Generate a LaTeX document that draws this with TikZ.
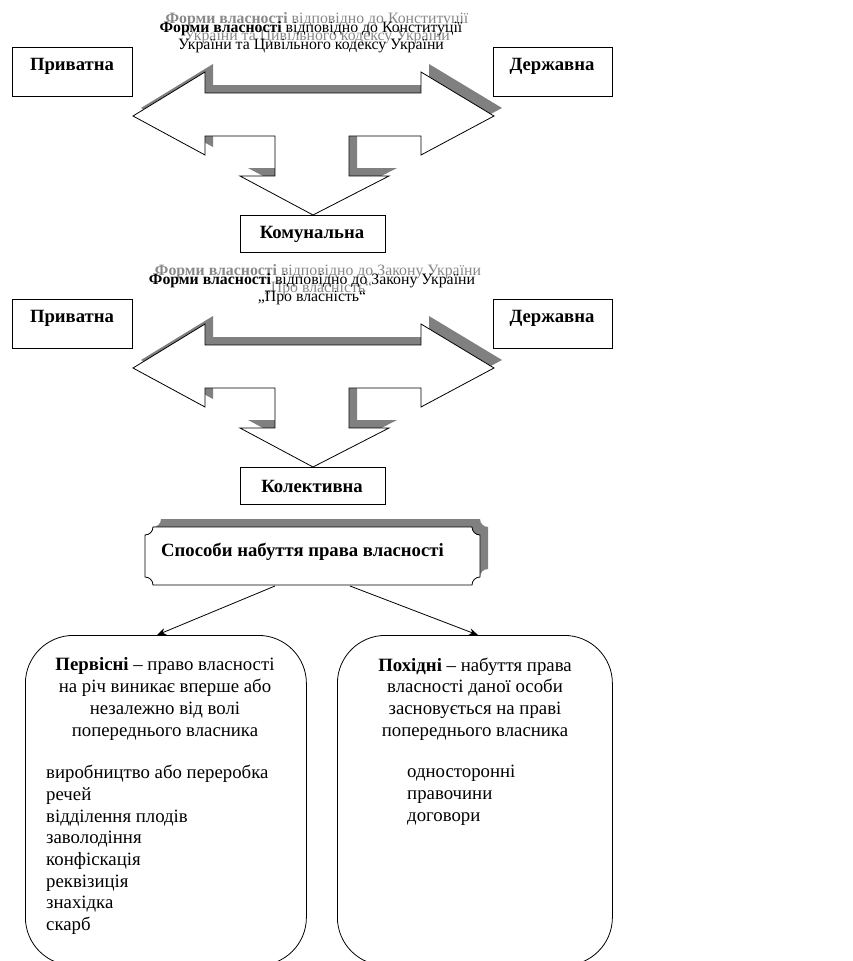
\documentclass[tikz,border=0pt]{standalone}
\usepackage{fontspec}
\setmainfont{Liberation Serif}
\usetikzlibrary{arrows.meta}
\definecolor{shadowgray}{RGB}{128,128,128}
\definecolor{titlegray}{RGB}{135,135,135}
\newcommand\bigarrowpath{(133,116) -- (205,72) -- (205,93) -- (421,93) -- (421,72) -- (494,116) -- (421,155) -- (421,136) -- (349,136) -- (349,176) -- (389,176) -- (313,215) -- (240,176) -- (275,176) -- (275,136) -- (205,136) -- (205,155) -- cycle}
\newcommand\plaquepath{(153,527) -- (472,527) arc[start angle=180,end angle=90,radius=8] -- (480,577) arc[start angle=270,end angle=180,radius=8] -- (153,585) arc[start angle=0,end angle=-90,radius=8] -- (145,535) arc[start angle=90,end angle=0,radius=8] -- cycle}
\tikzset{
  line/.style={line width=0.8pt},
  boxn/.style={draw, line width=0.8pt, fill=white, inner sep=0pt, anchor=north west},
  lbl/.style={font=\bfseries\fontsize{18.7}{20}\selectfont, inner sep=0pt},
  ttl/.style={font=\fontsize{15.8}{17}\selectfont, align=center, inner sep=0pt},
  ttlg/.style={ttl, text=titlegray},
  txt/.style={font=\fontsize{18.8}{21.7}\selectfont, inner sep=0pt},
  shadowfill/.style={fill=shadowgray},
  roundbox/.style={draw, line width=0.8pt, rounded corners=48pt, inner sep=0pt, anchor=north west},
  arr/.style={line width=0.8pt, -{Stealth[length=9pt,width=7pt]}}
}
\begin{document}
\begin{tikzpicture}[x=1pt,y=-1pt]
\useasboundingbox (0,0) rectangle (853,961);
% ---------- section 1 ----------
\node[ttlg] (t1g) at (317,28) {\textbf{Форми власності} відповідно до Конституції\\України та Цивільного кодексу України};
\node[ttl] (t1) at (311,37) {\textbf{Форми власності} відповідно до Конституції\\України та Цивільного кодексу України};
\node[boxn, minimum width=120, minimum height=49] (priv1) at (12,47) {};
\node[lbl] (priv1t) at (72,66) {Приватна};
\node[boxn, minimum width=119, minimum height=49] (derzh1) at (493,47) {};
\node[lbl] (derzh1t) at (552,66) {Державна};
\fill[shadowfill, shift={(8,-8)}] \bigarrowpath;
\draw[line, fill=white] \bigarrowpath;
\node[boxn, minimum width=145, minimum height=37] (kom) at (240,215) {};
\node[lbl] (komt) at (312,234) {Комунальна};
% ---------- section 2 ----------
\begin{scope}[shift={(0,252)}]
\node[ttlg] (t2g) at (318,28) {\textbf{Форми власності} відповідно до Закону України\\„Про власність“};
\node[ttl] (t2) at (312,37) {\textbf{Форми власності} відповідно до Закону України\\„Про власність“};
\node[boxn, minimum width=120, minimum height=49] (priv2) at (12,47) {};
\node[lbl] (priv2t) at (72,66) {Приватна};
\node[boxn, minimum width=119, minimum height=49] (derzh2) at (493,47) {};
\node[lbl] (derzh2t) at (552,66) {Державна};
\fill[shadowfill, shift={(8,-8)}] \bigarrowpath;
\draw[line, fill=white] \bigarrowpath;
\node[boxn, minimum width=145, minimum height=37] (kol) at (240,215) {};
\node[lbl] (kolt) at (312,234) {Колективна};
\end{scope}
% ---------- section 3 ----------
\fill[shadowfill, shift={(8,-8)}] \plaquepath;
\draw[line, fill=white] \plaquepath;
\node[lbl, anchor=west] (sposob) at (161,552) {Способи набуття права власності};
\coordinate (s1) at (275,586);
\coordinate (s2) at (350,586);
\node[roundbox, minimum width=281, minimum height=330] (perv) at (25,635) {};
\node[roundbox, minimum width=275, minimum height=330] (pokh) at (337,635) {};
\coordinate (e1) at (157,635);
\coordinate (e2) at (478,635);
\draw[arr] (s1) -- (e1);
\draw[arr] (s2) -- (e2);
\node[txt, align=center] (pervt) at (165,699) {\textbf{Первісні} – право власності\\на річ виникає вперше або\\незалежно від волі\\попереднього власника};
\node[txt, align=left, anchor=north west] (pervl) at (46,765) {виробництво або переробка\\речей\\відділення плодів\\заволодіння\\конфіскація\\реквізиція\\знахідка\\скарб};
\node[txt, align=center] (pokht) at (475,699) {\textbf{Похідні} – набуття права\\власності даної особи\\засновується на праві\\попереднього власника};
\node[txt, align=left, anchor=north west] (pokhl) at (407,765) {односторонні\\правочини\\договори};
\end{tikzpicture}
\end{document}
